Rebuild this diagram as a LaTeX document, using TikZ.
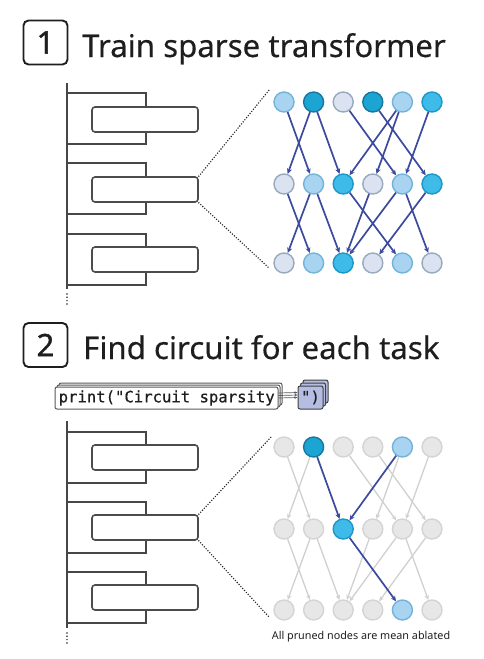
\documentclass[tikz,border=0pt]{standalone}
\usepackage{fontspec}
\setmainfont{Noto Sans}
\newfontfamily\codefont[FakeBold=0.6]{DejaVu Sans Mono}
\newfontfamily\numfont[FakeBold=1.2]{Noto Sans}
\newfontfamily\titlefont[FakeBold=0.3]{Noto Sans}
\usetikzlibrary{arrows.meta}
\definecolor{cLight}{HTML}{A8D4F1}
\definecolor{cLightB}{HTML}{72B3DA}
\definecolor{cDark}{HTML}{1CA4D3}
\definecolor{cDarkB}{HTML}{17789F}
\definecolor{cVLight}{HTML}{DBE3F3}
\definecolor{cVLightB}{HTML}{97AABC}
\definecolor{cMed}{HTML}{3EBBE9}
\definecolor{cMedB}{HTML}{1C98C6}
\definecolor{cGrey}{HTML}{E7E7E7}
\definecolor{cGreyB}{HTML}{D4D4D4}
\definecolor{cEdge}{HTML}{3B4A9E}
\definecolor{cGEdge}{HTML}{D0D0D0}
\definecolor{cPurple}{HTML}{B5BDE2}
\definecolor{cInk}{HTML}{1E1E1E}
\tikzset{
  numbox/.style={draw=cInk, line width=1.9pt, rounded corners=5pt, minimum width=44pt, minimum height=44pt, inner sep=0pt, text=cInk, font=\numfont\fontsize{31}{31}\selectfont},
  titletext/.style={anchor=base west, inner sep=0pt, text=cInk, font=\titlefont\fontsize{31.2}{31.2}\selectfont},
  treeline/.style={draw=black!72, line width=2.1pt},
  layerbox/.style={draw=black!70, line width=1.6pt, rounded corners=3pt, fill=white, minimum width=106pt, minimum height=25pt, inner sep=0pt},
  zoomline/.style={draw=black!85, line width=1.6pt, line cap=round, dash pattern=on 0pt off 2.7pt},
  nn/.style={circle, minimum size=20pt, inner sep=0pt, line width=1.4pt},
  lt/.style={nn, fill=cLight, draw=cLightB},
  dk/.style={nn, fill=cDark, draw=cDarkB},
  vl/.style={nn, fill=cVLight, draw=cVLightB},
  md/.style={nn, fill=cMed, draw=cMedB},
  gr/.style={nn, fill=cGrey, draw=cGreyB},
  edge/.style={draw=cEdge, line width=1.7pt, -{Stealth[length=5.5pt,width=5pt]}},
  gedge/.style={draw=cGEdge, line width=1.3pt, -{Stealth[length=5pt,width=4.5pt]}},
  codebox/.style={draw=black!65, line width=1pt, rounded corners=2pt, fill=white, minimum width=223pt, minimum height=22pt, inner sep=0pt},
  quotebox/.style={draw=black!75, line width=1pt, rounded corners=2pt, fill=cPurple, minimum width=25pt, minimum height=23pt, inner sep=0pt},
  codearrow/.style={draw=black!65, line width=0.7pt, -{Stealth[length=3pt,width=2.5pt]}},
}
\begin{document}
\begin{tikzpicture}[x=1pt,y=-1pt]
\useasboundingbox (0,0) rectangle (484,659);

% ---------- Section 1 ----------
\node[numbox] (n1) at (45.5,42.5) {1};
\node[titletext] (t1) at (82,57) {Train sparse transformer};

\draw[treeline] (67,83) -- (67,289);
\draw[draw=black!85, line width=1.7pt, line cap=round, dash pattern=on 0pt off 3.3pt] (67,294) -- (67,304);
\foreach \t in {93,163,234} {
  \draw[treeline] (67,\t) -- (146,\t) -- (146,\t+51) -- (67,\t+51);
}
\node[layerbox] (a1) at (145,119.5) {};
\node[layerbox] (a2) at (145,189.5) {};
\node[layerbox] (a3) at (145,259.5) {};
\coordinate (z1a) at (270,89);
\coordinate (z1b) at (269,268);
\draw[zoomline] (a2.north east) -- (z1a);
\draw[zoomline] (a2.south east) -- (z1b);

% network 1
\def\ca{284}\def\cb{313.6}\def\cc{343.2}\def\cd{372.8}\def\ce{402.4}\def\cf{432}
\node[lt] (p1) at (\ca,102) {};
\node[dk] (p2) at (\cb,102) {};
\node[vl] (p3) at (\cc,102) {};
\node[dk] (p4) at (\cd,102) {};
\node[lt] (p5) at (\ce,102) {};
\node[md] (p6) at (\cf,102) {};
\node[vl] (q1) at (\ca,184) {};
\node[lt] (q2) at (\cb,184) {};
\node[md] (q3) at (\cc,184) {};
\node[vl] (q4) at (\cd,184) {};
\node[lt] (q5) at (\ce,184) {};
\node[md] (q6) at (\cf,184) {};
\node[vl] (r1) at (\ca,263) {};
\node[lt] (r2) at (\cb,263) {};
\node[md] (r3) at (\cc,263) {};
\node[vl] (r4) at (\cd,263) {};
\node[lt] (r5) at (\ce,263) {};
\node[vl] (r6) at (\cf,263) {};
\foreach \s/\d in {p1/q2,p2/q1,p2/q3,p3/q5,p4/q6,p5/q3,p5/q4,p6/q5,
                   q1/r2,q2/r1,q2/r3,q3/r5,q4/r3,q5/r3,q5/r6,q6/r4} {
  \draw[edge] (\s) -- (\d);
}

% ---------- Section 2 ----------
\node[numbox] (n2) at (45.5,345) {2};
\node[titletext] (t2) at (83,359) {Find circuit for each task};

% code boxes
\node[codebox] (codeC) at (170.5,394) {};
\node[codebox] (codeB) at (168.5,396) {};
\node[codebox] (codeA) at (166.5,398) {};
\node[quotebox] (quoteC) at (315.5,391.5) {};
\node[quotebox] (quoteB) at (313,394.5) {};
\node[quotebox] (quoteA) at (310.5,397.5) {};
\node[anchor=west, inner sep=0pt, font=\codefont\fontsize{15.6}{15.6}\selectfont, text=cInk] (codetxt) at (58.5,398) {print("Circuit sparsity};
\node[inner sep=0pt, font=\codefont\fontsize{15.6}{15.6}\selectfont, text=cInk] (quotetxt) at (quoteA.center) {")};
\draw[codearrow] ([yshift=5pt]codeA.east) -- ([yshift=5pt]quoteA.west);
\draw[codearrow] ([yshift=2.5pt]codeA.east) -- ([yshift=2.5pt]quoteA.west);
\draw[codearrow] (codeA.east) -- (quoteA.west);

\draw[treeline] (67,421) -- (67,628);
\draw[draw=black!85, line width=1.7pt, line cap=round, dash pattern=on 0pt off 3.3pt] (67,633) -- (67,643);
\foreach \t in {432,502,572} {
  \draw[treeline] (67,\t) -- (146,\t) -- (146,\t+51) -- (67,\t+51);
}
\node[layerbox] (b1) at (145,457.5) {};
\node[layerbox] (b2) at (145,527.5) {};
\node[layerbox] (b3) at (145,597.5) {};
\coordinate (z2a) at (272,436);
\coordinate (z2b) at (269,617);
\draw[zoomline] (b2.north east) -- (z2a);
\draw[zoomline] (b2.south east) -- (z2b);

% network 2
\node[gr] (u1) at (\ca,447) {};
\node[dk] (u2) at (\cb,447) {};
\node[gr] (u3) at (\cc,447) {};
\node[gr] (u4) at (\cd,447) {};
\node[lt] (u5) at (\ce,447) {};
\node[gr] (u6) at (\cf,447) {};
\node[gr] (v1) at (\ca,529) {};
\node[gr] (v2) at (\cb,529) {};
\node[md] (v3) at (\cc,529) {};
\node[gr] (v4) at (\cd,529) {};
\node[gr] (v5) at (\ce,529) {};
\node[gr] (v6) at (\cf,529) {};
\node[gr] (w1) at (\ca,610) {};
\node[gr] (w2) at (\cb,610) {};
\node[gr] (w3) at (\cc,610) {};
\node[gr] (w4) at (\cd,610) {};
\node[lt] (w5) at (\ce,610) {};
\node[gr] (w6) at (\cf,610) {};
\foreach \s/\d in {u1/v2,u2/v1,u3/v5,u4/v6,u5/v4,u6/v5,
                   v1/w2,v2/w1,v2/w3,v4/w3,v5/w3,v5/w6,v6/w4} {
  \draw[gedge] (\s) -- (\d);
}
\draw[edge] (u2) -- (v3);
\draw[edge] (u5) -- (v3);
\draw[edge] (v3) -- (w5);

\node[inner sep=0pt, text=cInk, font=\fontsize{10.8}{10.8}\selectfont] (note) at (361,637) {All pruned nodes are mean ablated};
\end{tikzpicture}
\end{document}
